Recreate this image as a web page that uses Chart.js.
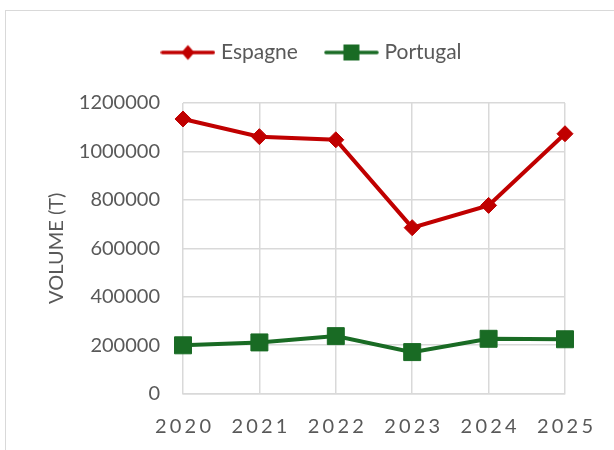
<!DOCTYPE html>
<html>
<head>
<meta charset="utf-8">
<script src="https://cdn.jsdelivr.net/npm/chart.js@4"></script>
<style>
  html, body { margin: 0; padding: 0; background: #fff; overflow: hidden; }
  #wrap { position: relative; width: 614px; height: 450px; }
  #frame { position: absolute; left: 5px; top: 10px; width: 700px; height: 600px; border: 1.5px solid #d9d9d9; }
  canvas { position: absolute; left: 0; top: 0; }
</style>
</head>
<body>
<div id="wrap">
  <div id="frame"></div>
  <canvas id="chart" width="614" height="450"></canvas>
</div>
<script>
(function(){
    'use strict';

    const years = ['2020', '2021', '2022', '2023', '2024', '2025'];
    const espagne = [1134000, 1061000, 1048000, 685000, 777000, 1073000];
    const portugal = [199000, 211000, 237000, 171000, 226000, 224000];
    const yTicks = [0, 200000, 400000, 600000, 800000, 1000000, 1200000];

    const COLORS = {
        red: '#c00000',
        green: '#196b24',
        grid: '#d9d9d9',
        text: '#595959'
    };
    const FONT = 'Lato, "Open Sans", sans-serif';
    const SIZE = 20;

    // legend icon: short line with the marker in the middle
    function legendIcon(color, shape){
        const c = document.createElement('canvas');
        c.width = 55; c.height = 18;
        const g = c.getContext('2d');
        g.strokeStyle = color;
        g.lineWidth = 3.5;
        g.lineCap = 'round';
        g.beginPath(); g.moveTo(2, 9); g.lineTo(53, 9); g.stroke();
        g.fillStyle = color;
        g.beginPath();
        if(shape === 'diamond'){
            g.moveTo(27.5, 1.5); g.lineTo(34, 9); g.lineTo(27.5, 16.5); g.lineTo(21, 9);
        } else {
            g.rect(19.5, 1, 16, 16);
        }
        g.closePath(); g.fill();
        return c;
    }
    const icons = [legendIcon(COLORS.red, 'diamond'), legendIcon(COLORS.green, 'square')];

    const LETTER = 3.2;
    const LEGEND_SHIFT = 31;
    const tweaks = {
        id: 'tweaks',
        beforeLayout(chart){
            const lg = chart.legend;
            if(lg && !lg._patched){
                const fit = lg.fit.bind(lg);
                lg.fit = function(){ fit(); this.height += 30; };
                const draw = lg.draw.bind(lg);
                lg.draw = function(){
                    chart.ctx.save();
                    chart.ctx.translate(LEGEND_SHIFT, 0);
                    draw();
                    chart.ctx.restore();
                };
                lg._patched = true;
            }
        },
        beforeDraw(chart){
            const s = chart.scales.x;
            if(s && !s._patched){
                const draw = s.drawLabels.bind(s);
                s.drawLabels = function(area){
                    const ctx = chart.ctx;
                    ctx.save();
                    ctx.letterSpacing = LETTER + 'px';
                    ctx.translate(LETTER / 2, 0);
                    draw(area);
                    ctx.restore();
                };
                s._patched = true;
            }
        }
    };

    new Chart(document.getElementById('chart').getContext('2d'), {
        type: 'line',
        data: {
            labels: years,
            datasets: [
                {
                    label: 'Espagne',
                    data: espagne,
                    borderColor: COLORS.red,
                    backgroundColor: COLORS.red,
                    borderWidth: 4,
                    tension: 0,
                    pointStyle: 'rectRot',
                    pointRadius: 8,
                    pointBorderWidth: 1,
                    pointBackgroundColor: COLORS.red,
                    pointBorderColor: COLORS.red
                },
                {
                    label: 'Portugal',
                    data: portugal,
                    borderColor: COLORS.green,
                    backgroundColor: COLORS.green,
                    borderWidth: 4,
                    tension: 0,
                    pointStyle: 'rect',
                    pointRadius: 12,
                    pointBorderWidth: 1,
                    pointBackgroundColor: COLORS.green,
                    pointBorderColor: COLORS.green
                }
            ]
        },
        options: {
            responsive: false,
            animation: false,
            devicePixelRatio: 1,
            layout: { padding: { top: 11, right: 49, bottom: 0, left: 0 } },
            scales: {
                x: {
                    offset: false,
                    grid: { color: COLORS.grid, lineWidth: 1.5, drawTicks: false },
                    border: { color: COLORS.grid, width: 1.5 },
                    ticks: { color: COLORS.text, padding: 21, font: { family: FONT, size: SIZE } },
                    afterFit(scale){ scale.height = 56.5; }
                },
                y: {
                    min: yTicks[0],
                    max: yTicks[yTicks.length - 1],
                    afterBuildTicks(scale){ scale.ticks = yTicks.map(v => ({ value: v })); },
                    grid: { color: COLORS.grid, lineWidth: 1.5, drawTicks: false },
                    border: { display: false },
                    ticks: {
                        color: COLORS.text,
                        padding: 23,
                        font: { family: FONT, size: SIZE },
                        callback: v => String(v)
                    },
                    title: {
                        display: true,
                        text: 'VOLUME (T)',
                        color: COLORS.text,
                        font: { family: FONT, size: SIZE },
                        padding: { top: 45, bottom: 0 }
                    },
                    afterFit(scale){ scale.width = 183; }
                }
            },
            plugins: {
                legend: {
                    position: 'top',
                    labels: {
                        usePointStyle: true,
                        pointStyleWidth: 45,
                        padding: 31,
                        color: COLORS.text,
                        font: { family: FONT, size: 21 },
                        generateLabels(chart){
                            const base = Chart.defaults.plugins.legend.labels.generateLabels(chart);
                            return base.map((l, i) => Object.assign(l, { pointStyle: icons[i] }));
                        }
                    }
                },
                tooltip: { enabled: false }
            }
        },
        plugins: [tweaks]
    });
})();
</script>
</body>
</html>
